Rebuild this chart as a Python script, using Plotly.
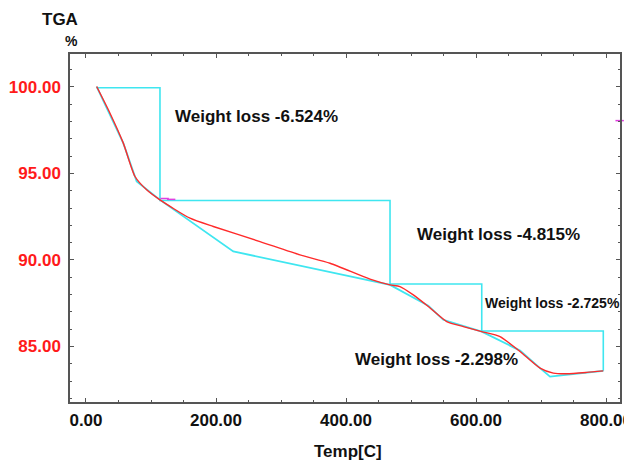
import plotly.graph_objects as go

# TGA curve (temperature in C, weight %)
tga_temp = [16.4, 36.9, 57.4, 75.4, 93.3, 113.8, 160.0, 195.9, 267.7, 329.2, 375.4,
            436.9, 467.7, 483.0, 503.5, 526.6, 554.9, 580.5, 608.8, 636.9, 667.7,
            698.5, 718.9, 739.5, 770.3, 795.8]
tga_weight = [100.02, 98.48, 96.75, 94.82, 94.05, 93.47, 92.41, 91.93, 91.06, 90.29, 89.81,
              88.89, 88.56, 88.46, 87.98, 87.31, 86.44, 86.15, 85.86, 85.57, 84.71,
              83.75, 83.46, 83.42, 83.50, 83.59]

# cyan analysis trace
fit_temp = [16.4, 57.4, 78.0, 113.8, 226.6, 467.7, 526.6, 549.7, 608.8, 667.7, 698.5, 713.8, 795.8]
fit_weight = [100.02, 96.75, 94.53, 93.47, 90.49, 88.56, 87.35, 86.54, 85.86, 84.76, 83.75, 83.26, 83.59]

# step levels
step_temp = [16.4, 113.8, 467.7, 608.8, 795.8]
step_level = [99.95, 93.43, 88.61, 85.89, 83.59]

# weight loss labels
loss_text = ["Weight loss -6.524%", "Weight loss -4.815%", "Weight loss -2.725%", "Weight loss -2.298%"]
loss_x = [133.8, 506.0, 611.0, 411.0]
loss_y = [98.27, 91.45, 87.5, 84.23]
loss_size = [17, 17, 14, 17]

# small magenta marks
mark_x = [121.0, 131.0, 821.0]
mark_y = [93.55, 93.5, 98.05]

x_ticks = [0, 200, 400, 600, 800]
y_ticks = [85, 90, 95, 100]

CYAN = "#3fe6f0"
RED = "#ff2a2a"
tick_font = dict(family="Liberation Sans, Arial", size=17, weight="bold")

fig = go.Figure()
fig.add_trace(go.Scatter(x=step_temp, y=step_level, mode="lines", line_shape="hv",
                         line=dict(color=CYAN, width=1.6), hoverinfo="skip"))
fig.add_trace(go.Scatter(x=fit_temp, y=fit_weight, mode="lines",
                         line=dict(color=CYAN, width=1.8), hoverinfo="skip"))
fig.add_trace(go.Scatter(x=tga_temp, y=tga_weight, mode="lines", line_shape="spline",
                         line=dict(color=RED, width=1.4, smoothing=0.6)))
fig.add_trace(go.Scatter(x=mark_x, y=mark_y, mode="markers",
                         marker=dict(symbol="line-ew", size=6, line=dict(color="#e040e0", width=1.5)),
                         hoverinfo="skip", cliponaxis=False))

for t, x, y, s in zip(loss_text, loss_x, loss_y, loss_size):
    fig.add_annotation(x=x, y=y, text=t, showarrow=False, xanchor="left", yanchor="middle",
                       font=dict(family="Liberation Sans, Arial", size=s, color="#111", weight="bold"))

fig.add_annotation(xref="paper", yref="paper", x=-0.018, y=1.098, text="TGA", showarrow=False,
                   xanchor="center", yanchor="middle",
                   font=dict(family="Liberation Sans, Arial", size=17, color="#111", weight="bold"))
fig.add_annotation(xref="paper", yref="paper", x=0.003, y=1.037, text="%", showarrow=False,
                   xanchor="center", yanchor="middle",
                   font=dict(family="Liberation Sans, Arial", size=14, color="#111", weight="bold"))
fig.add_annotation(xref="paper", yref="paper", x=0.505, y=-0.141, text="Temp[C]", showarrow=False,
                   xanchor="center", yanchor="middle",
                   font=dict(tick_font, color="#111"))

axis_common = dict(showgrid=False, zeroline=False, showline=True, linecolor="#555", linewidth=1.5,
                   mirror="allticks", ticks="inside", ticklen=4, tickcolor="#555", tickwidth=1,
                   automargin=False, ticklabeloverflow="allow")

fig.update_xaxes(range=[-24.6, 821.5], tickvals=x_ticks, tickformat=".2f",
                 tickfont=dict(tick_font, color="#111"), ticklabelstandoff=2,
                 minor=dict(dtick=50, ticks="inside", ticklen=2.5, tickcolor="#555"), **axis_common)
fig.update_yaxes(range=[81.79, 101.9], tickvals=y_ticks, tickformat=".2f",
                 tickfont=dict(tick_font, color="#ff1a1a"), ticklabelstandoff=4,
                 minor=dict(dtick=1, ticks="inside", ticklen=2.5, tickcolor="#555"), **axis_common)

# page body has an 8px default margin, so the figure is 8px smaller than the window
fig.update_layout(width=624, height=457, margin=dict(l=62, r=12, t=46, b=63),
                  paper_bgcolor="white", plot_bgcolor="white", showlegend=False)

fig.write_html("out.html")
